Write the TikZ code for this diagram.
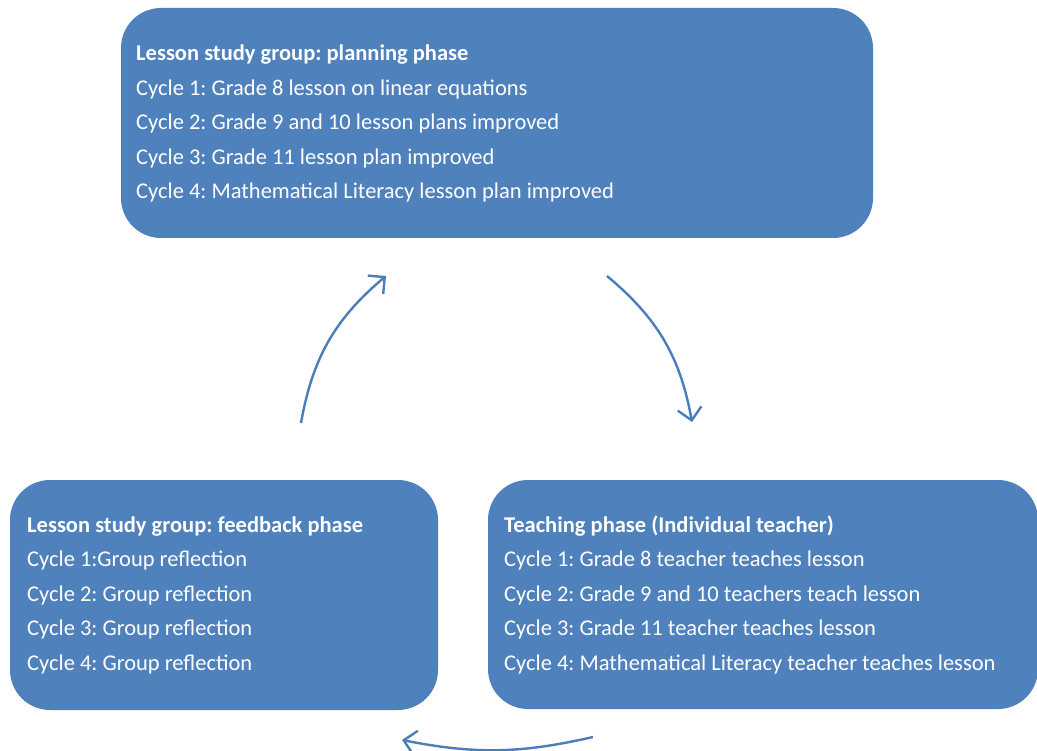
\documentclass[tikz,border=0pt]{standalone}
\usepackage{fontspec}
\setmainfont{Carlito}
\usetikzlibrary{arrows.meta}
\definecolor{phasefill}{HTML}{4F81BD}
\definecolor{flowline}{HTML}{4A7EBB}
\frenchspacing
\begin{document}
\begin{tikzpicture}[x=1pt,y=-1pt,
  phase/.style={fill=phasefill, rounded corners=40pt, inner sep=0pt},
  line/.style={text=white, anchor=base west, inner sep=0pt,
    font=\fontsize{22.5}{27}\selectfont},
  head/.style={line, font=\fontsize{22.5}{27}\selectfont\bfseries},
  flow/.style={draw=flowline, line width=2.4pt,
    -{Straight Barb[length=12pt,width=24pt]}}]
\useasboundingbox (0,0) rectangle (1037,751);

% the three phase boxes
\node[phase, minimum width=752pt, minimum height=230pt] (plan) at (497,123) {};
\node[phase, minimum width=428pt, minimum height=230pt] (feedback) at (224,595) {};
\node[phase, minimum width=550pt, minimum height=229pt] (teach) at (763,594.5) {};

% planning phase
\node[head] (plan-0) at (136,61) {Lesson study group: planning phase};
\node[line] (plan-1) at (136,95.5) {Cycle 1: Grade 8 lesson on linear equations};
\node[line] (plan-2) at (136,130) {Cycle 2: Grade 9 and 10 lesson plans improved};
\node[line] (plan-3) at (136,164.5) {Cycle 3: Grade 11 lesson plan improved};
\node[line] (plan-4) at (136,199) {Cycle 4: Mathematical Literacy lesson plan improved};

% feedback phase
\node[head] (fb-0) at (27,532) {Lesson study group: feedback phase};
\node[line] (fb-1) at (27,566.5) {Cycle 1:Group reflection};
\node[line] (fb-2) at (27,601) {Cycle 2: Group reflection};
\node[line] (fb-3) at (27,635.5) {Cycle 3: Group reflection};
\node[line] (fb-4) at (27,670) {Cycle 4: Group reflection};

% teaching phase
\node[head] (tp-0) at (504,532) {Teaching phase (Individual teacher)};
\node[line] (tp-1) at (504,566.5) {Cycle 1: Grade 8 teacher teaches lesson};
\node[line] (tp-2) at (504,601) {Cycle 2: Grade 9 and 10 teachers teach lesson};
\node[line] (tp-3) at (504,635.5) {Cycle 3: Grade 11 teacher teaches lesson};
\node[line] (tp-4) at (504,670) {Cycle 4: Mathematical Literacy teacher teaches lesson};

% cycle arrows
\coordinate (up-from) at (301,423);
\coordinate (up-to) at (386,276);
\coordinate (down-from) at (607,276);
\coordinate (down-to) at (692,422);
\coordinate (back-from) at (593,737);
\coordinate (back-to) at (402,740);
\draw[flow] (up-from) to[bend left=20] (up-to);
\draw[flow] (down-from) to[bend left=20] (down-to);
\draw[flow] (back-from) to[bend left=12] (back-to);
\end{tikzpicture}
\end{document}
